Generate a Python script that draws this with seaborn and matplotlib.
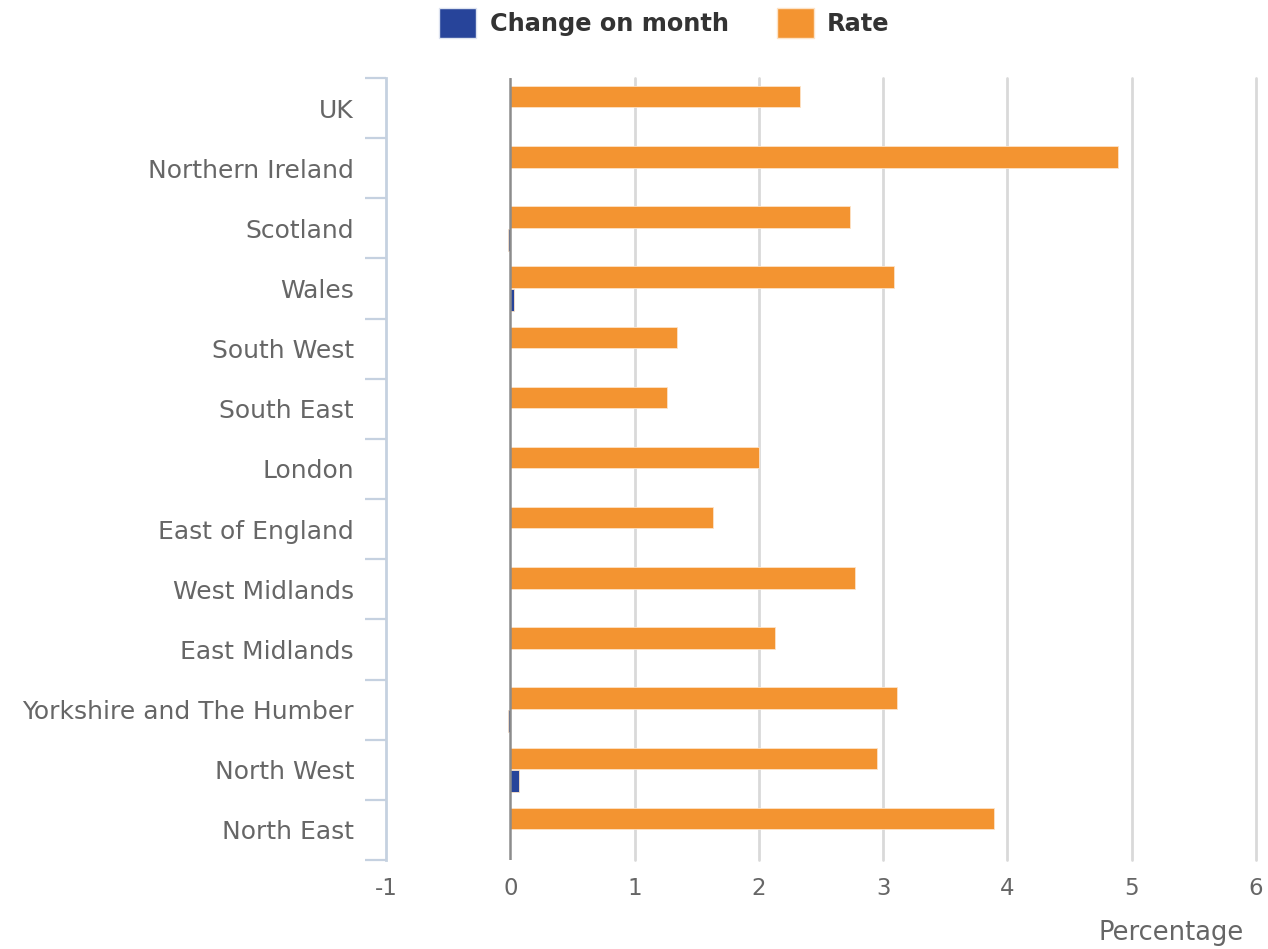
import pandas as pd
import matplotlib.pyplot as plt
import seaborn as sns
from matplotlib.patches import Patch

# Data
regions = ['UK', 'Northern Ireland', 'Scotland', 'Wales', 'South West', 'South East',
           'London', 'East of England', 'West Midlands', 'East Midlands',
           'Yorkshire and The Humber', 'North West', 'North East']
rate = [2.33, 4.89, 2.73, 3.09, 1.34, 1.26, 2.00, 1.63, 2.77, 2.13, 3.11, 2.95, 3.89]
change_on_month = [0.0, 0.0, -0.02, 0.03, 0.0, 0.0, 0.0, 0.0, 0.0, 0.0, -0.02, 0.07, 0.0]
x_ticks = [-1, 0, 1, 2, 3, 4, 5, 6]

BLUE = '#27449a'
ORANGE = '#f39431'
TEXT = '#666666'
AXIS = '#c5d1e0'

df = pd.DataFrame({'Region': regions * 2,
                   'Series': ['Rate'] * len(regions) + ['Change on month'] * len(regions),
                   'Value': rate + change_on_month})

sns.set_style('white')
plt.rcParams['font.family'] = ['DejaVu Sans']

fig = plt.figure(figsize=(12.68, 9.49), dpi=100)
ax = fig.add_axes([0.3044, 0.0938, 0.6861, 0.824])

# grid under bars
for t in x_ticks[2:]:
    ax.axvline(t, color='#d9d9d9', lw=2, zorder=0, clip_on=False)

sns.barplot(data=df, y='Region', x='Value', hue='Series',
            hue_order=['Rate', 'Change on month'], order=regions,
            palette={'Rate': ORANGE, 'Change on month': BLUE}, saturation=1,
            width=0.76, gap=0.06, edgecolor='#fde3c7', linewidth=0.6,
            orient='h', legend=False, ax=ax, zorder=2)

# zero line
ax.axvline(0, color='#8c8c8c', lw=1.8, zorder=3)

ax.set_xlim(-1, 6)
ax.set_ylim(len(regions) - 0.5, -0.5)
ax.set_xticks(x_ticks)
ax.set_xticklabels([str(t) for t in x_ticks])
ax.tick_params(axis='x', length=0, pad=12, labelsize=16.5, labelcolor=TEXT)

ax.set_yticks(range(len(regions)))
ax.set_yticklabels(regions)
ax.set_yticks([i - 0.5 for i in range(len(regions) + 1)], minor=True)
ax.tick_params(axis='y', which='major', left=False, length=0, pad=23,
               labelsize=18, labelcolor=TEXT)
ax.tick_params(axis='y', which='minor', left=True, length=15, width=1.6, color=AXIS)

for s in ['top', 'right', 'bottom']:
    ax.spines[s].set_visible(False)
ax.spines['left'].set_color(AXIS)
ax.spines['left'].set_linewidth(2)

ax.set_ylabel('')
ax.set_xlabel('Percentage', fontsize=18.5, color=TEXT, ha='right', va='center')
ax.xaxis.set_label_coords(0.986, -0.0934)

handles = [Patch(facecolor=BLUE, edgecolor='#dde3f0', label='Change on month'),
           Patch(facecolor=ORANGE, edgecolor='#fde3c7', label='Rate')]
fig.legend(handles=handles, loc='upper center', bbox_to_anchor=(0.524, 1.014), ncol=2,
           frameon=False, handlelength=1.55, handleheight=1.5, handletextpad=0.55,
           columnspacing=2.0, prop={'weight': 'bold', 'size': 17.3}, labelcolor='#333333')

plt.savefig('out.png', dpi=100)
